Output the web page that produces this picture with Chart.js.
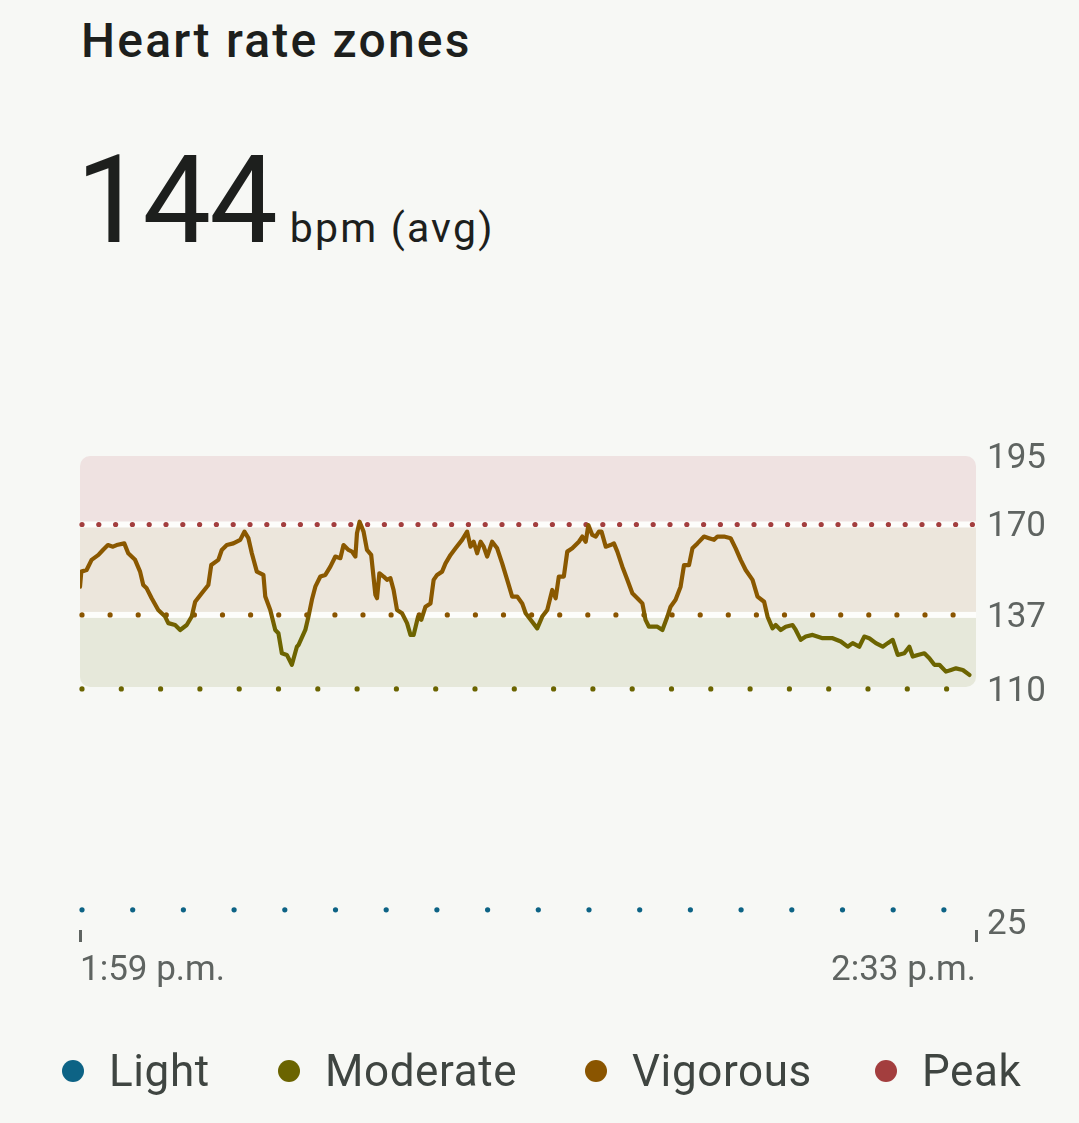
<!DOCTYPE html>
<html>
<head>
<meta charset="utf-8">
<script src="https://cdn.jsdelivr.net/npm/chart.js@4.4.1/dist/chart.umd.min.js"></script>
<style>
  html, body { margin: 0; padding: 0; background: #f7f8f5; }
  body { width: 1079px; height: 1123px; position: relative; overflow: hidden; font-family: Roboto, sans-serif; }
  #chart { position: absolute; left: 0; top: 0; }
  .title { position: absolute; left: 81px; top: 17px; font-size: 48px; line-height: 48px; font-weight: 500; letter-spacing: 2.2px; color: #1d1f1d; }
  .avg { position: absolute; left: 76px; top: 131px; display: flex; align-items: baseline; color: #1d1f1d; }
  .avg .num { font-size: 122px; line-height: 140px; letter-spacing: -2px; }
  .avg .unit { font-size: 41px; margin-left: 14px; letter-spacing: 2.2px; }
  .legend-item { position: absolute; top: 1046px; height: 50px; display: flex; align-items: center; font-size: 44px; letter-spacing: 0.6px; color: #3f4541; }
  .legend-item span.dot { width: 22px; height: 22px; border-radius: 50%; margin-right: 25px; }
</style>
</head>
<body>
<div class="title">Heart rate zones</div>
<div class="avg"><span class="num" id="avgNum"></span><span class="unit">bpm (avg)</span></div>
<canvas id="chart" width="1079" height="1123"></canvas>
<div id="legend"></div>
<script>
// elapsed minutes since 1:59 p.m. and heart rate
const minutes = [
  0, 0.05, 0.25, 0.44, 0.70, 0.87, 1.06, 1.25, 1.39, 1.68, 1.83, 2.09, 2.28, 2.40, 2.53, 2.72, 2.97,
  3.23, 3.35, 3.61, 3.80, 4.05, 4.24, 4.37, 4.62, 4.87, 4.98, 5.25, 5.38, 5.57, 5.82, 6.08, 6.24,
  6.39, 6.52, 6.71, 6.96, 7.03, 7.22, 7.41, 7.53, 7.66, 7.85, 8.04, 8.23, 8.29, 8.55, 8.67, 8.80,
  8.93, 9.12, 9.31, 9.50, 9.69, 9.88, 10.00, 10.19, 10.32, 10.45, 10.51, 10.61, 10.76, 10.89, 11.05,
  11.21, 11.27, 11.36, 11.52, 11.65, 11.78, 11.90, 12.03, 12.22, 12.41, 12.54, 12.66, 12.83, 12.95,
  13.11, 13.30, 13.42, 13.55, 13.74, 13.87, 14.06, 14.25, 14.50, 14.69, 14.82, 14.94, 15.07, 15.20,
  15.32, 15.45, 15.64, 15.83, 16.02, 16.21, 16.40, 16.59, 16.78, 16.91, 17.10, 17.35, 17.54, 17.73,
  17.92, 18.05, 18.17, 18.36, 18.49, 18.68, 18.93, 19.06, 19.19, 19.29, 19.44, 19.57, 19.69, 19.79,
  19.95, 20.13, 20.26, 20.39, 20.58, 20.77, 20.96, 21.15, 21.34, 21.46, 21.59, 21.91, 22.10, 22.29,
  22.41, 22.60, 22.79, 22.92, 23.11, 23.24, 23.43, 23.68, 23.87, 24.06, 24.19, 24.44, 24.69, 24.88,
  25.07, 25.26, 25.52, 25.71, 25.96, 26.09, 26.28, 26.40, 26.59, 26.78, 27.04, 27.16, 27.35, 27.54,
  27.80, 28.18, 28.56, 28.87, 29.13, 29.32, 29.57, 29.76, 29.95, 30.20, 30.46, 30.65, 30.84, 31.03,
  31.28, 31.47, 31.60, 31.79, 32.04, 32.23, 32.42, 32.61, 32.86, 33.05, 33.24, 33.50, 33.75
];
const bpm = [
  147.3, 152.8, 153.4, 157.1, 158.9, 160.7, 162.5, 161.9, 162.5, 163.1, 159.5, 157.1, 152.8, 147.9, 146.7, 143.1, 138.8,
  136.4, 134.0, 133.3, 131.5, 133.3, 136.4, 141.8, 144.9, 147.9, 155.2, 157.1, 160.7, 162.5, 163.1, 164.4, 167.4,
  165.0, 159.5, 152.8, 151.6, 143.7, 138.8, 131.5, 130.3, 123.0, 122.4, 118.8, 125.4, 126.0, 131.5, 136.4, 142.5,
  147.3, 151.0, 151.6, 154.6, 158.3, 157.7, 162.5, 160.7, 160.1, 158.3, 166.8, 171.0, 167.4, 160.7, 158.9,
  144.3, 143.1, 152.2, 151.0, 149.8, 150.4, 146.1, 138.8, 137.6, 134.0, 129.7, 129.7, 136.4, 135.2,
  140.0, 141.2, 149.8, 151.6, 152.8, 155.8, 158.9, 161.3, 164.4, 167.4, 161.9, 163.7, 159.5, 163.7,
  161.9, 158.3, 163.7, 161.3, 155.8, 149.8, 143.7, 143.7, 141.2, 137.6, 135.2, 132.1, 136.4, 138.8,
  146.1, 143.1, 151.0, 151.0, 160.1, 161.3, 163.7, 165.6, 163.7, 169.8, 166.2, 165.6, 167.4, 167.4,
  161.9, 162.5, 163.1, 160.1, 154.6, 149.8, 144.9, 143.1, 141.2, 135.2, 132.7, 132.7, 131.5, 136.4,
  140.0, 142.5, 147.3, 155.2, 155.2, 161.3, 163.1, 165.6, 165.0, 164.4, 165.6, 165.6, 165.0, 161.3,
  157.1, 153.4, 149.8, 143.7, 141.8, 136.4, 132.1, 133.3, 131.5, 132.7, 133.3, 131.5, 127.9, 129.1,
  129.7, 128.5, 128.5, 127.3, 125.4, 126.7, 125.4, 129.1, 128.5, 126.7, 125.4, 126.7, 127.9, 122.4,
  123.0, 125.4, 121.8, 122.4, 123.0, 121.2, 118.8, 118.8, 116.3, 116.9, 117.5, 116.9, 115.1
];
const avgBpm = 144;
const totalMinutes = 34;
const timeLabels = ['1:59 p.m.', '2:33 p.m.'];
const yTicks = [25, 110, 137, 170, 195];
const zoneNames = ['Light', 'Moderate', 'Vigorous', 'Peak'];
const zoneLimits = [25, 110, 137, 170, 195]; // lower bound of each zone, then top

const zoneColors = ['#0d6385', '#6b6400', '#8a5500', '#a33e3e'];
const bandColors = ['#e6e8da', '#ece6dc', '#efe2e1'];
const dotGaps = [50.7, 39.3, 28.1, 16.8];
const lineBrown = '#8a5800';
const lineOlive = '#6c6400';
const axisGray = '#5f6461';

document.getElementById('avgNum').textContent = avgBpm;

// legend
const legendX = [62, 278, 585, 875];
const legend = document.getElementById('legend');
zoneNames.forEach((name, i) => {
  const item = document.createElement('div');
  item.className = 'legend-item';
  item.style.left = legendX[i] + 'px';
  item.innerHTML = `<span class="dot" style="background:${zoneColors[i]}"></span>${name}`;
  legend.appendChild(item);
});

const zonePlugin = {
  id: 'zones',
  beforeDatasetsDraw(chart) {
    const { ctx, chartArea: a, scales: { y } } = chart;
    const w = a.right - a.left;
    const py = zoneLimits.map(v => y.getPixelForValue(v));
    ctx.save();
    ctx.beginPath();
    ctx.roundRect(a.left, py[4], w, py[1] - 2 - py[4], 10);
    ctx.clip();
    for (let i = 1; i <= 3; i++) {
      ctx.fillStyle = bandColors[i - 1];
      ctx.fillRect(a.left, py[i + 1], w, py[i] - py[i + 1]);
    }
    ctx.fillStyle = '#fdfdfb';
    ctx.fillRect(a.left, py[3] - 3, w, 6);
    ctx.fillRect(a.left, py[2] - 3, w, 6);
    ctx.restore();

    // dotted zone lines
    ctx.save();
    for (let i = 0; i < 4; i++) {
      const yy = i === 0 ? py[0] - 12 : py[i];
      ctx.fillStyle = zoneColors[i];
      for (let x = a.left + 2; x <= a.right - 3; x += dotGaps[i]) {
        ctx.beginPath();
        ctx.arc(x, yy, 2.6, 0, Math.PI * 2);
        ctx.fill();
      }
    }
    ctx.restore();
  }
};

function lineGradient(context) {
  const chart = context.chart;
  const { ctx, chartArea, scales } = chart;
  if (!chartArea) return lineBrown;
  const y = scales.y;
  const top = y.getPixelForValue(195);
  const bot = y.getPixelForValue(110);
  const f = (y.getPixelForValue(137) - top) / (bot - top);
  const g = ctx.createLinearGradient(0, top, 0, bot);
  g.addColorStop(0, lineBrown);
  g.addColorStop(f - 0.04, lineBrown);
  g.addColorStop(f + 0.06, lineOlive);
  g.addColorStop(1, lineOlive);
  return g;
}

new Chart(document.getElementById('chart'), {
  type: 'line',
  data: {
    datasets: [{
      data: minutes.map((m, i) => ({ x: m, y: bpm[i] })),
      borderColor: lineGradient,
      borderWidth: 4.2,
      borderJoinStyle: 'round',
      borderCapStyle: 'round',
      pointRadius: 0,
      tension: 0,
      fill: false
    }]
  },
  options: {
    responsive: false,
    animation: false,
    layout: { padding: { left: 80, right: 0, top: 456, bottom: 113 } },
    plugins: { legend: { display: false }, tooltip: { enabled: false } },
    scales: {
      x: {
        type: 'linear',
        min: 0,
        max: totalMinutes,
        afterBuildTicks: s => { s.ticks = [{ value: 0 }, { value: totalMinutes }]; },
        afterFit: s => { s.height = 80; },
        border: { display: false },
        grid: { drawOnChartArea: false, drawTicks: true, tickLength: 12, tickWidth: 3, tickColor: axisGray },
        ticks: {
          align: 'inner',
          autoSkip: false,
          maxRotation: 0,
          padding: 8,
          color: axisGray,
          font: { family: 'Roboto', size: 35 },
          callback: (v, i) => timeLabels[i]
        }
      },
      y: {
        position: 'right',
        min: 22,
        max: 195,
        afterBuildTicks: s => { s.ticks = yTicks.map(v => ({ value: v })); },
        afterFit: s => { s.width = 103; },
        border: { display: false },
        grid: { display: false, drawTicks: false },
        ticks: {
          padding: 11,
          labelOffset: 3,
          color: axisGray,
          font: { family: 'Roboto', size: 35 }
        }
      }
    }
  },
  plugins: [zonePlugin]
});
</script>
</body>
</html>
